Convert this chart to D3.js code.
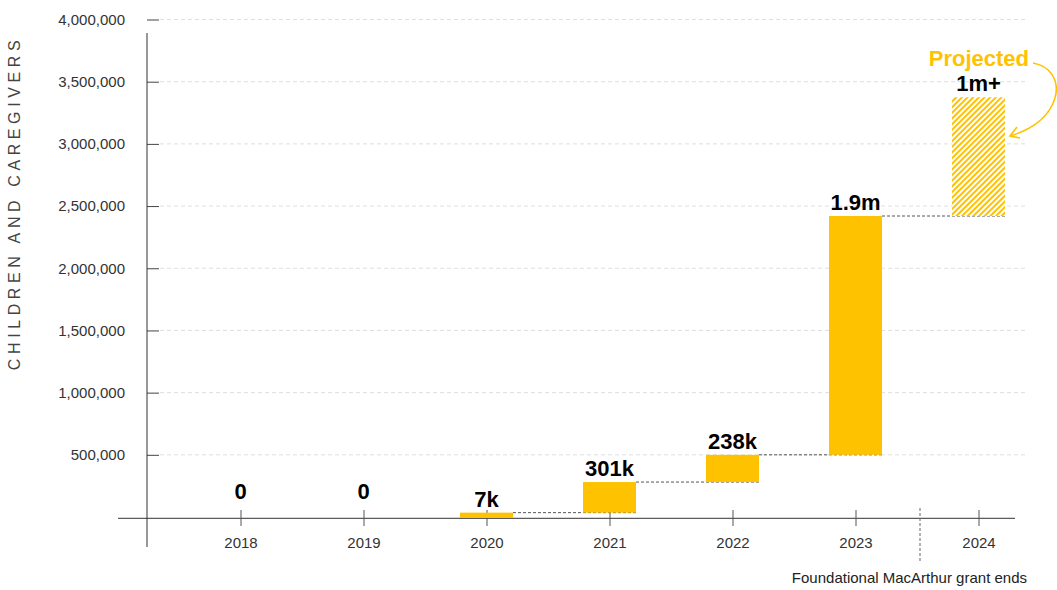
<!DOCTYPE html>
<html>
<head>
<meta charset="utf-8">
<script src="https://cdn.jsdelivr.net/npm/d3@7"></script>
<style>
  body { margin: 0; background: #fff; }
  svg { font-family: "Liberation Sans", Arial, sans-serif; }
</style>
</head>
<body>
<script>
// data
const years = ["2018", "2019", "2020", "2021", "2022", "2023", "2024"];
const barStart = [0, 0, 0, 35000, 281000, 500000, 2420000];
const barEnd = [0, 0, 35000, 281000, 500000, 2420000, 3375000];
const valueLabels = ["0", "0", "7k", "301k", "238k", "1.9m", "1m+"];
const projected = [false, false, false, false, false, false, true];
const yTicks = [500000, 1000000, 1500000, 2000000, 2500000, 3000000, 3500000, 4000000];

const W = 1057, H = 590;
const yellow = "#ffc200";

const svg = d3.select("body").append("svg")
    .attr("width", W)
    .attr("height", H);

// hatch pattern for projected bar
const defs = svg.append("defs");
const pat = defs.append("pattern")
    .attr("id", "hatch")
    .attr("patternUnits", "userSpaceOnUse")
    .attr("width", 4)
    .attr("height", 4)
    .attr("patternTransform", "rotate(45)");
pat.append("rect").attr("width", 4).attr("height", 4).attr("fill", "#fff");
pat.append("rect").attr("width", 2).attr("height", 4).attr("fill", yellow);

// scales
const x = d3.scalePoint().domain(years).range([240.5, 978.5]);
const y = d3.scaleLinear().domain([0, 4000000]).range([517, 19.5]);
const barW = 53;

// gridlines
svg.append("g")
    .selectAll("line")
    .data(yTicks)
    .join("line")
    .attr("x1", 160).attr("x2", 1025)
    .attr("y1", d => y(d)).attr("y2", d => y(d))
    .attr("stroke", "#dedede")
    .attr("stroke-dasharray", "4,3");

// y axis
const yAxis = svg.append("g")
    .attr("transform", "translate(147,0)")
    .call(d3.axisLeft(y).tickValues(yTicks).tickSize(11).tickFormat(d3.format(",")));
yAxis.select(".domain").remove();
yAxis.selectAll(".tick line").attr("x2", 12).attr("stroke", "#444");
yAxis.selectAll(".tick text")
    .attr("x", -22)
    .attr("fill", "#333")
    .style("font-size", "15px")
    .style("font-family", "Liberation Sans, Arial, sans-serif");
svg.append("line")
    .attr("x1", 147).attr("x2", 147)
    .attr("y1", 33).attr("y2", 547)
    .attr("stroke", "#333");

// x axis
svg.append("line")
    .attr("x1", 118).attr("x2", 1015)
    .attr("y1", 518.3).attr("y2", 518.3)
    .attr("stroke", "#333");
const xAxis = svg.append("g")
    .attr("transform", "translate(0,518)")
    .call(d3.axisBottom(x).tickSize(8));
xAxis.select(".domain").remove();
xAxis.selectAll(".tick line").attr("y1", -8).attr("stroke", "#555");
xAxis.selectAll(".tick text")
    .attr("y", 19)
    .attr("fill", "#333")
    .style("font-size", "15px")
    .style("font-family", "Liberation Sans, Arial, sans-serif");

// connectors between bars
const conn = d3.range(years.length - 1).filter(i => barEnd[i] > 0);
svg.append("g")
    .selectAll("line")
    .data(conn)
    .join("line")
    .attr("x1", i => x(years[i]) + barW / 2)
    .attr("x2", i => x(years[i + 1]) + barW / 2)
    .attr("y1", i => y(barEnd[i]))
    .attr("y2", i => y(barEnd[i]))
    .attr("stroke", "#555")
    .attr("stroke-dasharray", "3,2");

// bars
svg.append("g")
    .selectAll("rect")
    .data(years.filter((d, i) => barEnd[i] > barStart[i]))
    .join("rect")
    .attr("x", d => x(d) - barW / 2)
    .attr("width", barW)
    .attr("y", d => y(barEnd[years.indexOf(d)]))
    .attr("height", d => {
        const i = years.indexOf(d);
        return y(barStart[i]) - y(barEnd[i]) + (barStart[i] === 0 ? 1 : 0);
    })
    .attr("fill", d => projected[years.indexOf(d)] ? "url(#hatch)" : yellow);

// value labels
svg.append("g")
    .selectAll("text")
    .data(years)
    .join("text")
    .attr("x", d => x(d))
    .attr("y", (d, i) => barEnd[i] === 0 ? y(0) - 18 : y(barEnd[i]) - 6)
    .attr("text-anchor", "middle")
    .attr("fill", "#000")
    .style("font-size", "22px")
    .style("font-weight", "bold")
    .text((d, i) => valueLabels[i]);

// projected annotation
svg.append("text")
    .attr("x", 1029)
    .attr("y", 65.5)
    .attr("text-anchor", "end")
    .attr("fill", yellow)
    .style("font-size", "22px")
    .style("font-weight", "bold")
    .text("Projected");
svg.append("path")
    .attr("d", "M1033,63 C1050,66 1060,80 1055,98 C1049,118 1030,130 1010,136")
    .attr("fill", "none")
    .attr("stroke", yellow)
    .attr("stroke-width", 1.6);
svg.append("path")
    .attr("d", "M1017,127 L1010,136 L1020,138")
    .attr("fill", "none")
    .attr("stroke", yellow)
    .attr("stroke-width", 1.6);

// grant end marker
svg.append("line")
    .attr("x1", 920).attr("x2", 920)
    .attr("y1", 508).attr("y2", 562)
    .attr("stroke", "#666")
    .attr("stroke-dasharray", "3,2");
svg.append("text")
    .attr("x", 1027)
    .attr("y", 583)
    .attr("text-anchor", "end")
    .attr("fill", "#222")
    .style("font-size", "15px")
    .text("Foundational MacArthur grant ends");

// y axis title
svg.append("text")
    .attr("transform", "translate(20,203) rotate(-90)")
    .attr("text-anchor", "middle")
    .attr("fill", "#444")
    .style("font-size", "16px")
    .style("letter-spacing", "4.6px")
    .text("CHILDREN AND CAREGIVERS");
</script>
</body>
</html>
